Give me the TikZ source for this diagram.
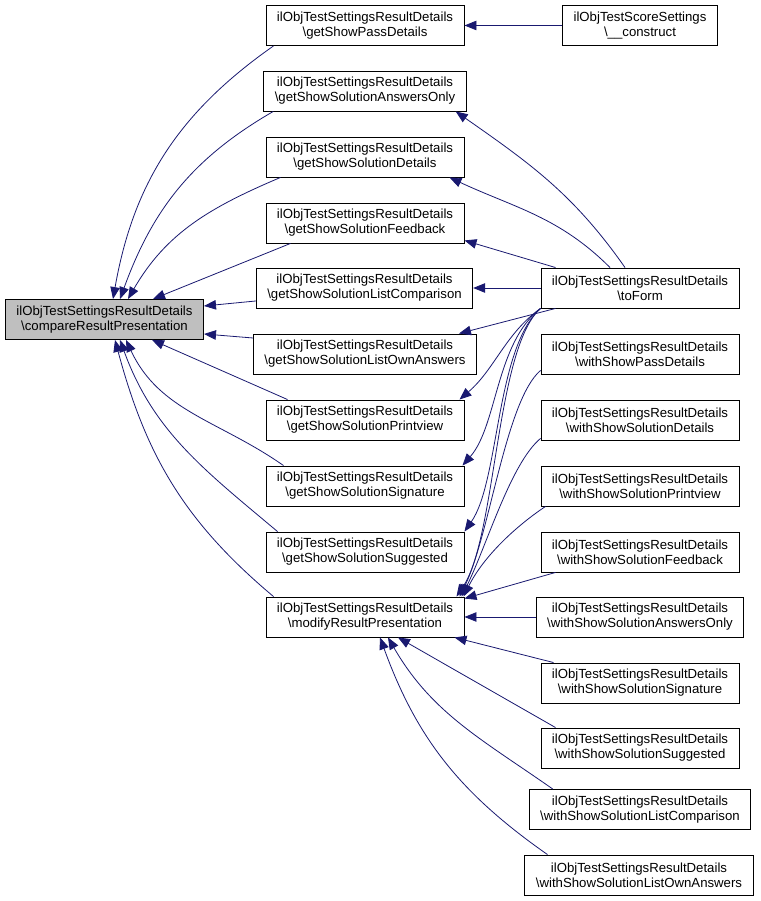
\documentclass[tikz,border=0pt]{standalone}
\usepackage{fontspec}
\setmainfont{Liberation Sans}
\usetikzlibrary{arrows.meta}
\definecolor{edgeblue}{RGB}{25,25,112}
\definecolor{selgray}{RGB}{191,191,191}
\newcommand{\bs}{\textbackslash}

\begin{document}
\begin{tikzpicture}[x=1pt, y=1pt,
  every node/.style={font=\fontsize{13.2}{15}\selectfont},
  fn/.style={draw, line width=0.9pt, align=center, minimum height=40pt, inner xsep=11pt, inner ysep=3pt},
  edge/.style={draw=edgeblue, line width=0.8pt, -{Triangle[length=12pt,width=9.5pt]}}]
	\useasboundingbox (0,0) rectangle (760,901);
	% the function itself
	\node[fn, fill=selgray] (cmp) at (104.5,581.5) {ilObjTestSettingsResultDetails\\\bs compareResultPresentation};
	% second column
	\node[fn] (gPass)  at (365,875.5) {ilObjTestSettingsResultDetails\\\bs getShowPassDetails};
	\node[fn] (gAns)   at (365,810)   {ilObjTestSettingsResultDetails\\\bs getShowSolutionAnswersOnly};
	\node[fn] (gDet)   at (365,744)   {ilObjTestSettingsResultDetails\\\bs getShowSolutionDetails};
	\node[fn] (gFb)    at (365,678)   {ilObjTestSettingsResultDetails\\\bs getShowSolutionFeedback};
	\node[fn] (gLCmp)  at (364.5,613) {ilObjTestSettingsResultDetails\\\bs getShowSolutionListComparison};
	\node[fn] (gLOwn)  at (365,547)   {ilObjTestSettingsResultDetails\\\bs getShowSolutionListOwnAnswers};
	\node[fn] (gPrint) at (365,481)   {ilObjTestSettingsResultDetails\\\bs getShowSolutionPrintview};
	\node[fn] (gSig)   at (365,415)   {ilObjTestSettingsResultDetails\\\bs getShowSolutionSignature};
	\node[fn] (gSugg)  at (365,349)   {ilObjTestSettingsResultDetails\\\bs getShowSolutionSuggested};
	\node[fn] (modRes) at (365,284)   {ilObjTestSettingsResultDetails\\\bs modifyResultPresentation};
	% third column
	\node[fn] (construct) at (640,875.5) {ilObjTestScoreSettings\\\bs\_\_construct};
	\node[fn] (toForm) at (640,613)  {ilObjTestSettingsResultDetails\\\bs toForm};
	\node[fn] (wPass)  at (640,547)  {ilObjTestSettingsResultDetails\\\bs withShowPassDetails};
	\node[fn] (wDet)   at (640,481)  {ilObjTestSettingsResultDetails\\\bs withShowSolutionDetails};
	\node[fn] (wPrint) at (640,415)  {ilObjTestSettingsResultDetails\\\bs withShowSolutionPrintview};
	\node[fn] (wFb)    at (640,349)  {ilObjTestSettingsResultDetails\\\bs withShowSolutionFeedback};
	\node[fn] (wAns)   at (640,284)  {ilObjTestSettingsResultDetails\\\bs withShowSolutionAnswersOnly};
	\node[fn] (wSig)   at (640,218)  {ilObjTestSettingsResultDetails\\\bs withShowSolutionSignature};
	\node[fn] (wSugg)  at (640,153)  {ilObjTestSettingsResultDetails\\\bs withShowSolutionSuggested};
	\node[fn] (wLCmp)  at (640,91.5) {ilObjTestSettingsResultDetails\\\bs withShowSolutionListComparison};
	\node[fn] (wLOwn)  at (639,26)   {ilObjTestSettingsResultDetails\\\bs withShowSolutionListOwnAnswers};
	% calls into compareResultPresentation
	\draw[edge] ([xshift=8pt]gPass.south west) to[out=215,in=80] ([xshift=8.5pt]cmp.north);
	\draw[edge] ([xshift=10pt]gAns.south west) to[out=210,in=70] ([xshift=15.5pt]cmp.north);
	\draw[edge] ([xshift=15pt]gDet.south west) to[out=203,in=60] ([xshift=23.5pt]cmp.north);
	\draw[edge] ([xshift=25pt]gFb.south west) -- ([xshift=48.5pt]cmp.north);
	\draw[edge] ([yshift=-13pt]gLCmp.west) -- ([yshift=13.5pt]cmp.east);
	\draw[edge] ([yshift=16pt]gLOwn.west) -- ([yshift=-14.5pt]cmp.east);
	\draw[edge] ([xshift=22pt]gPrint.north west) -- ([xshift=47.5pt]cmp.south);
	\draw[edge] ([xshift=18pt]gSig.north west) to[out=145,in=295] ([xshift=21.5pt]cmp.south);
	\draw[edge] ([xshift=12pt]gSugg.north west) to[out=140,in=290] ([xshift=15.5pt]cmp.south);
	\draw[edge] ([xshift=8pt]modRes.north west) to[out=140,in=285] ([xshift=10.5pt]cmp.south);
	% other callers
	\draw[edge] (construct) -- (gPass);
	\draw[edge] ([xshift=-15pt]toForm.north) to[out=125,in=-35] ([xshift=-11pt]gAns.south east);
	\draw[edge] ([xshift=-30pt]toForm.north) to[out=135,in=-25] ([xshift=-15pt]gDet.south east);
	\draw[edge] ([xshift=15pt]toForm.north west) -- ([yshift=3pt]gFb.south east);
	\draw[edge] (toForm) -- (gLCmp);
	\draw[edge] ([xshift=15pt]toForm.south west) -- ([xshift=-18pt]gLOwn.north east);
	\draw[edge] (toForm.south west) .. controls +(-35,-25) and +(35,30) .. ([xshift=-5pt]gPrint.north east);
	\draw[edge] (toForm.south west) .. controls +(-45,-35) and +(35,40) .. ([xshift=-2pt]gSig.north east);
	\draw[edge] (toForm.south west) .. controls +(-45,-40) and +(35,50) .. (gSugg.north east);
	\draw[edge] (toForm.south west) .. controls +(-45,-40) and +(40,60) .. ([xshift=-8pt]modRes.north east);
	% calls into modifyResultPresentation
	\draw[edge] ([yshift=4pt]wPass.south west) .. controls +(-35,-30) and +(30,60) .. ([xshift=-5pt]modRes.north east);
	\draw[edge] ([yshift=2pt]wDet.south west) .. controls +(-30,-25) and +(25,50) .. ([xshift=-3pt]modRes.north east);
	\draw[edge] ([xshift=5pt]wPrint.south west) .. controls +(-30,-20) and +(20,40) .. ([xshift=-1pt]modRes.north east);
	\draw[edge] ([xshift=15pt]wFb.south west) -- ([yshift=-2pt]modRes.north east);
	\draw[edge] (wAns) -- (modRes);
	\draw[edge] ([xshift=13pt]wSig.north west) -- ([xshift=-10pt]modRes.south east);
	\draw[edge] ([xshift=15pt]wSugg.north west) -- ([xshift=33pt]modRes.south);
	\draw[edge] ([xshift=24pt]wLCmp.north west) to[out=145,in=300] ([xshift=23pt]modRes.south);
	\draw[edge] ([xshift=23pt]wLOwn.north west) to[out=145,in=290] ([xshift=15pt]modRes.south);
\end{tikzpicture}
\end{document}
